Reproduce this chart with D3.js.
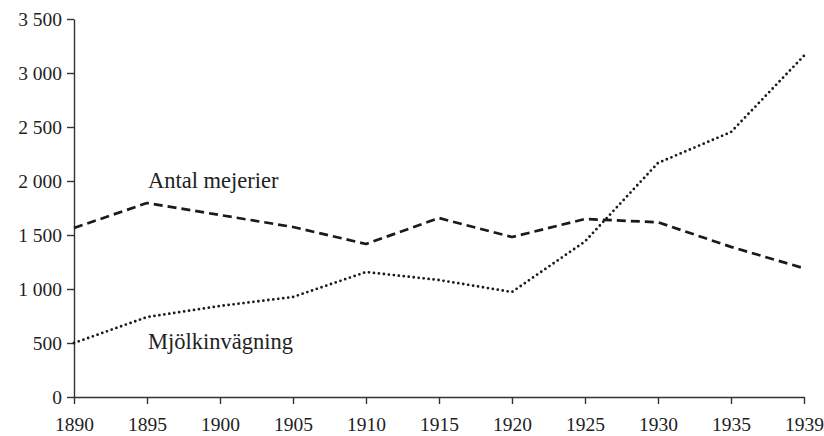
<!DOCTYPE html>
<html>
<head>
<meta charset="utf-8">
<style>
html, body {
  margin: 0;
  background: #fff;
}
svg text {
  font-family: "Liberation Serif", "DejaVu Serif", serif;
  fill: #222;
}
.axis path, .axis line {
  stroke: #333;
  stroke-width: 1.4px;
}
.series {
  fill: none;
  stroke: #1a1a1a;
  stroke-linejoin: round;
}
</style>
<script src="https://d3js.org/d3.v7.min.js"></script>
</head>
<body>
<svg width="824" height="436"></svg>
<script>
var years = ["1890", "1895", "1900", "1905", "1910", "1915", "1920", "1925", "1930", "1935", "1939"];
var mejerier = [1565, 1796, 1685, 1574, 1417, 1657, 1481, 1648, 1618, 1390, 1192];
var invagning = [500, 740, 843, 926, 1157, 1083, 972, 1440, 2167, 2453, 3160];
var yTicks = [0, 500, 1000, 1500, 2000, 2500, 3000, 3500];

var svg = d3.select("svg");

var x = d3.scalePoint().domain(years).range([74, 804]);
var y = d3.scaleLinear().domain([0, 3500]).range([397, 19]);

var fmt = d3.formatLocale({decimal: ",", thousands: " ", grouping: [3], currency: ["", ""]}).format(",");

var yAxis = svg.append("g")
    .attr("class", "axis")
    .attr("transform", "translate(74,0)")
    .call(d3.axisLeft(y).tickValues(yTicks).tickFormat(fmt).tickSize(7).tickPadding(5).tickSizeOuter(0));

var xAxis = svg.append("g")
    .attr("class", "axis")
    .attr("transform", "translate(0,397)")
    .call(d3.axisBottom(x).tickSize(7).tickPadding(13).tickSizeOuter(0));

svg.selectAll(".axis")
    .attr("font-family", "Liberation Serif")
    .attr("font-size", 19.5);

var line = d3.line()
    .x((d, i) => x(years[i]))
    .y(d => y(d));

svg.append("path")
    .datum(mejerier)
    .attr("class", "series")
    .attr("stroke-width", 2.7)
    .attr("stroke-dasharray", "9 5")
    .attr("d", line);

svg.append("path")
    .datum(invagning)
    .attr("class", "series")
    .attr("stroke-width", 2.8)
    .attr("stroke-linecap", "round")
    .attr("stroke-dasharray", "0 5")
    .attr("d", line);

svg.append("text")
    .attr("x", 148)
    .attr("y", 188)
    .attr("font-size", 22.5)
    .text("Antal mejerier");

svg.append("text")
    .attr("x", 148)
    .attr("y", 349)
    .attr("font-size", 22.5)
    .text("Mjölkinvägning");
</script>
</body>
</html>
